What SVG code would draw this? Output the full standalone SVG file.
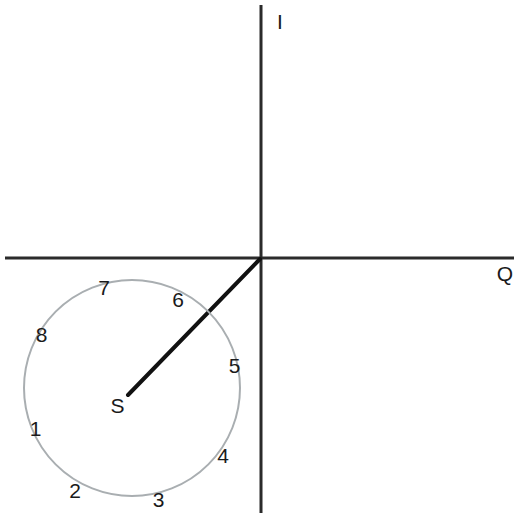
<svg xmlns="http://www.w3.org/2000/svg" width="514" height="513" viewBox="0 0 514 513">
<style>
.axis{stroke:#2b2b2b;stroke-width:3;fill:none}
.lbl{font-family:"Liberation Sans",Arial,sans-serif;font-size:21px;fill:#1a1a1a;text-anchor:middle}
</style>
<rect width="514" height="513" fill="#ffffff"/>
<g id="connectors">
<line class="axis" x1="5" y1="258" x2="514" y2="258"/>
<line class="axis" x1="261" y1="5" x2="261" y2="513"/>
<line x1="260" y1="259" x2="128" y2="395" stroke="#111" stroke-width="4" stroke-linecap="round"/>
</g>
<g id="circle">
<circle cx="132" cy="388" r="108" fill="none" stroke="#a9aeb1" stroke-width="2"/>
</g>
<g id="axis-labels">
<text class="lbl" x="280" y="28.5">I</text>
<text class="lbl" x="505" y="281">Q</text>
</g>
<g id="point-S"><text class="lbl" x="117.5" y="412.5">S</text></g>
<g id="point-1"><text class="lbl" x="35.5" y="436">1</text></g>
<g id="point-2"><text class="lbl" x="75" y="498">2</text></g>
<g id="point-3"><text class="lbl" x="158.5" y="507">3</text></g>
<g id="point-4"><text class="lbl" x="223" y="463">4</text></g>
<g id="point-5"><text class="lbl" x="234.5" y="373">5</text></g>
<g id="point-6"><text class="lbl" x="178" y="306.5">6</text></g>
<g id="point-7"><text class="lbl" x="104" y="295">7</text></g>
<g id="point-8"><text class="lbl" x="41.5" y="341.5">8</text></g>
</svg>
